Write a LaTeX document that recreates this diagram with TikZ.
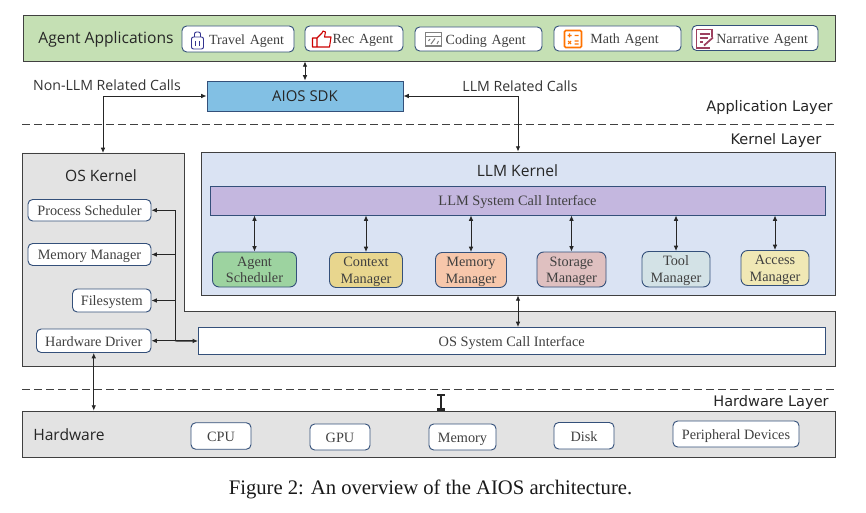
\documentclass[tikz,border=0pt]{standalone}
\usepackage{fontspec}
\setmainfont{Liberation Serif}
\newfontfamily\boxfont{Open Sans}
\newfontfamily\layerfont{DejaVu Sans}
\usetikzlibrary{arrows.meta}
\definecolor{edgegray}{HTML}{404040}
\definecolor{pillblue}{HTML}{34507A}
\definecolor{labelgray}{HTML}{404040}
\definecolor{appsgreen}{HTML}{C5E0B4}
\definecolor{osgray}{HTML}{E3E3E3}
\definecolor{llmblue}{HTML}{DAE3F3}
\definecolor{sdkblue}{HTML}{82C0E4}
\definecolor{llmviolet}{HTML}{C4B7DF}
\definecolor{schedfill}{HTML}{9DD3A0}
\definecolor{ctxfill}{HTML}{E8D68E}
\definecolor{memfill}{HTML}{F7C7AB}
\definecolor{storfill}{HTML}{DFC0C0}
\definecolor{toolfill}{HTML}{D3E2E6}
\definecolor{accfill}{HTML}{F0E8B5}
\tikzset{
  sz/.style 2 args={minimum width=#1*0.75pt, minimum height=#2*0.75pt, inner sep=0pt},
  panel/.style={draw=edgegray, line width=0.6pt},
  pill/.style={draw=pillblue, fill=white, rounded corners=3.5pt, line width=0.7pt,
    text=labelgray, font=\fontsize{10.7}{12.4}\selectfont, align=center,
    text height=10pt, text depth=2pt},
  apppill/.style={pill, font=\fontsize{10.5}{12.4}\selectfont, align=right},
  twoline/.style={rounded corners=5pt, text height=22.4pt, text depth=2.5pt},
  bar/.style={draw=pillblue, line width=0.7pt, text=labelgray,
    font=\fontsize{10.75}{12}\selectfont, text height=10pt, text depth=2pt},
  head/.style={font=\boxfont\fontsize{11.7}{13}\selectfont, text=black!85},
  layer/.style={font=\layerfont\fontsize{10.9}{13}\selectfont, text=black!85},
  calls/.style={font=\boxfont\fontsize{10.6}{12}\selectfont, text=black!80},
  both/.style={{Latex[length=4pt,width=3.5pt]}-{Latex[length=4pt,width=3.5pt]}, line width=0.7pt, draw=black!85},
  tip/.style={-{Latex[length=4pt,width=3.5pt]}, line width=0.7pt, draw=black!85},
}
\begin{document}
\begin{tikzpicture}[x=0.75pt,y=-0.75pt]
   \useasboundingbox (0,0) rectangle (866,513);
   % panels
   \node[panel, fill=appsgreen, sz={812}{46}] (apps) at (429,38) {};
   \filldraw[panel, fill=osgray] (22,153) -- (184,153) -- (184,311) -- (835,311) -- (835,366) -- (22,366) -- cycle;
   \node[panel, fill=llmblue, sz={634}{143}] (llmk) at (518,223.5) {};
   \node[panel, fill=osgray, sz={813}{46}] (hw) at (428.5,434) {};
   \coordinate (osk) at (103,153);
   % layer lines
   \draw[draw=edgegray, line width=0.6pt, dash pattern=on 6pt off 3pt] (22,124) -- (836,124);
   \draw[draw=edgegray, line width=0.6pt, dash pattern=on 6pt off 3pt] (22,389) -- (836,389);
   \node[layer] (applayer) at (769.5,107.5) {Application Layer};
   \node[layer] (kernlayer) at (776,140) {Kernel Layer};
   \node[layer] (hwlayer) at (771,402) {Hardware Layer};
   % top row
   \node[head] (appstitle) at (106,39.5) {Agent Applications};
   \node[apppill, sz={112}{26}, text width=84pt] (travel) at (238,39) {Travel Agent\hspace*{7.5pt}};
   \node[apppill, sz={98}{25}, text width=73.5pt] (rec) at (354,38.5) {Rec Agent\hspace*{7.3pt}};
   \node[apppill, sz={127}{24}, text width=95pt] (coding) at (478.5,39) {Coding Agent\hspace*{12pt}};
   \node[apppill, sz={127}{25}, text width=95pt] (math) at (617.5,38.5) {Math Agent\hspace*{16.5pt}};
   \node[apppill, sz={126}{25}, text width=94.5pt] (narr) at (755,38) {Narrative Agent\hspace*{7.5pt}};
   % icons
   \draw[draw=blue!45!black!80, line width=0.7pt, rounded corners=1.5pt] (191.5,37) rectangle (203.5,49);
   \draw[draw=blue!45!black!80, line width=0.7pt, rounded corners=1.5pt] (194.5,37) -- (194.5,32) -- (200.5,32) -- (200.5,37);
   \draw[draw=blue!45!black!80, line width=0.6pt] (195.5,41) -- (195.5,46) (199.5,41) -- (199.5,46);
   \draw[draw=red!80!black, line width=0.8pt, line join=round] (312.5,38) -- (317,38) -- (322,33) -- (323,31) -- (325.5,32) -- (324.5,37) -- (331,37) -- (329.5,47) -- (312.5,47) -- cycle (317,38) -- (317,47);
   \draw[draw=black!50, line width=1pt] (425.5,32.5) rectangle (441.5,46) (425.5,36.5) -- (441.5,36.5);
   \draw[draw=black!50, line width=0.8pt] (431,44) -- (435,38.5) (428.5,41) -- (430,39) (438.5,41) -- (437,44);
   \draw[draw=orange!90!red, line width=1.2pt, rounded corners=1pt] (564.5,30.5) rectangle (581.5,47.5);
   \draw[draw=orange!90!red, line width=0.8pt] (567.5,35.5) -- (571.5,35.5) (569.5,33.5) -- (569.5,37.5) (574.5,35.5) -- (578.5,35.5)
      (568,41) -- (571,44) (571,41) -- (568,44) (574.5,41) -- (578.5,41) (574.5,44) -- (578.5,44);
   \draw[draw=purple!65!black!75, line width=1.1pt] (712,37) -- (712,29.5) -- (696.5,29.5) -- (696.5,48) -- (710,48);
   \draw[draw=purple!65!black!75, line width=0.9pt] (699.5,34) -- (709.5,34) (699.5,38) -- (708,38) (699.5,42) -- (703,42);
   \draw[draw=purple!65!black!75, line width=1.3pt] (704,45.5) -- (713,37.5);
   % sdk
   \node[draw=pillblue, line width=0.7pt, fill=sdkblue, sz={196}{30}, font=\boxfont\fontsize{11.2}{13}\selectfont, text=black!85] (sdk) at (305,96) {AIOS SDK};
   \node[calls] (nonllm) at (107,85) {Non-LLM Related Calls};
   \node[calls] (llmcalls) at (520,86) {LLM Related Calls};
   \coordinate (leftturn) at (103,96);
   \coordinate (rightturn) at (518,96);
   \draw[both] (sdk.north) -- (sdk.north |- apps.south);
   \draw[both] (sdk.west) -- (leftturn) -- (osk);
   \draw[both] (sdk.east) -- (rightturn) -- (rightturn |- llmk.north);
   % llm kernel
   \node[head] (llmtitle) at (517.5,171) {LLM Kernel};
   \node[bar, fill=llmviolet, sz={615}{29}] (llmci) at (517.5,200.5) {LLM System Call Interface};
   \node[pill, twoline, fill=schedfill, sz={84}{35}] (sched) at (254.5,269.5) {Agent\\Scheduler};
   \node[pill, twoline, fill=ctxfill, sz={73}{35}] (ctx) at (366,270) {Context\\Manager};
   \node[pill, twoline, fill=memfill, sz={71}{35}] (mem) at (471,270) {Memory\\Manager};
   \node[pill, twoline, fill=storfill, sz={69}{35}] (stor) at (571.5,269.5) {Storage\\Manager};
   \node[pill, twoline, fill=toolfill, sz={68}{35.5}] (tool) at (676,269.25) {Tool\\Manager};
   \node[pill, twoline, fill=accfill, sz={68}{35}] (acc) at (775,268) {Access\\Manager};
   \foreach \n in {sched,ctx,mem,stor,tool,acc}
     \draw[both] (\n.north) -- (\n.north |- llmci.south);
   % os kernel
   \node[head] (ostitle) at (101,175.5) {OS Kernel};
   \node[pill, sz={123}{21.5}] (ps) at (89.5,210.25) {Process Scheduler};
   \node[pill, sz={123}{22}] (mm) at (89.5,254.5) {Memory Manager};
   \node[pill, sz={78.5}{23}] (fs) at (111.75,300.5) {Filesystem};
   \node[pill, sz={114.5}{23.5}] (hd) at (93.75,340.75) {Hardware Driver};
   \node[bar, fill=white, sz={626.5}{27}] (osci) at (511.75,341) {OS System Call Interface};
   \coordinate (bus) at (175,340.75);
   \draw[line width=0.7pt, draw=black!85] (bus |- ps.east) -- (bus);
   \foreach \n in {ps,mm,fs,hd}
     \draw[tip] (bus |- \n.east) -- (\n.east);
   \draw[tip, line width=1.1pt] (bus) -- (osci.west);
   \draw[both] (llmk.south) -- (llmk.south |- osci.north);
   % hardware
   \node[head, anchor=west, inner sep=0pt] (hwtitle) at (33,435) {Hardware};
   \node[pill, sz={60}{26.5}] (cpu) at (221,436) {CPU};
   \node[pill, sz={60}{26}] (gpu) at (340,437) {GPU};
   \node[pill, sz={67}{26}] (hmem) at (462.5,437) {Memory};
   \node[pill, sz={60}{26.5}] (disk) at (584,435.75) {Disk};
   \node[pill, sz={126}{26}] (periph) at (736,434) {Peripheral Devices};
   \draw[both] (hd.south) -- (hd.south |- hw.north);
   \coordinate (ibeam) at (441,393.5);
   \draw[{Bar[width=5.5pt]}-{Bar[width=5.5pt]}, line width=1.9pt, draw=black!85] (ibeam) -- (ibeam |- hw.north);
   % caption
   \node[font=\fontsize{15.5}{18}\selectfont, text=black!90] (caption) at (430.5,489) {Figure 2: An overview of the AIOS architecture.};
\end{tikzpicture}
\end{document}
